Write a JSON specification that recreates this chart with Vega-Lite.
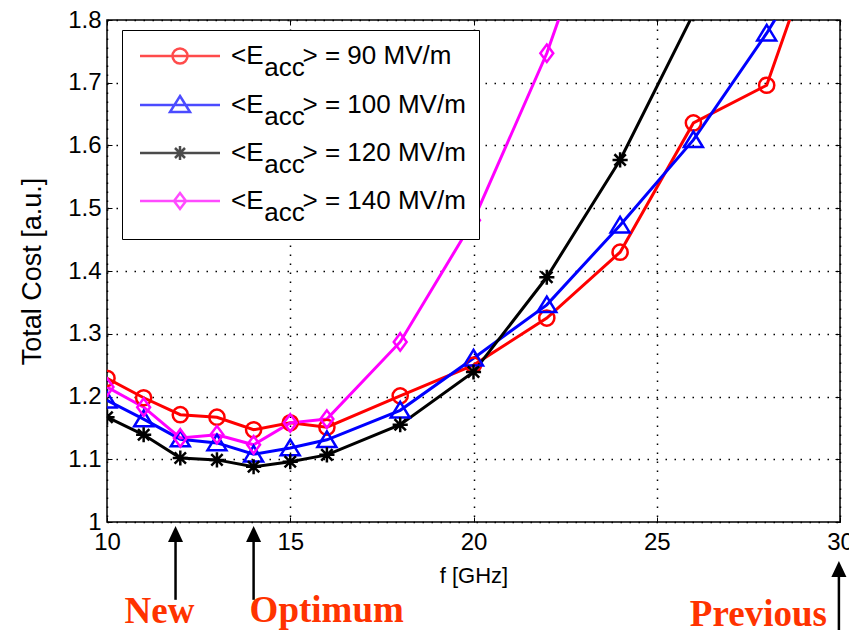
{
  "$schema": "https://vega.github.io/schema/vega-lite/v6.json",
  "width": 733,
  "height": 502,
  "autosize": {"type": "none"},
  "padding": {"left": 107, "top": 20, "right": 9, "bottom": 108},
  "background": "white",
  "config": {
    "font": "Liberation Sans",
    "view": {"stroke": "black", "strokeWidth": 1.5},
    "style": {"guide-label": {"lineHeight": 12}}
  },
  "datasets": {
    "curves": [
      {"f": 10, "E": 90, "cost": 1.229}, {"f": 11, "E": 90, "cost": 1.198}, {"f": 12, "E": 90, "cost": 1.171}, {"f": 13, "E": 90, "cost": 1.167}, {"f": 14, "E": 90, "cost": 1.147}, {"f": 15, "E": 90, "cost": 1.158}, {"f": 16, "E": 90, "cost": 1.151}, {"f": 18, "E": 90, "cost": 1.201}, {"f": 20, "E": 90, "cost": 1.25}, {"f": 22, "E": 90, "cost": 1.325}, {"f": 24, "E": 90, "cost": 1.43}, {"f": 26, "E": 90, "cost": 1.636}, {"f": 28, "E": 90, "cost": 1.696}, {"f": 30, "E": 90, "cost": 2.03},
      {"f": 10, "E": 100, "cost": 1.194}, {"f": 11, "E": 100, "cost": 1.164}, {"f": 12, "E": 100, "cost": 1.132}, {"f": 13, "E": 100, "cost": 1.126}, {"f": 14, "E": 100, "cost": 1.108}, {"f": 15, "E": 100, "cost": 1.118}, {"f": 16, "E": 100, "cost": 1.131}, {"f": 18, "E": 100, "cost": 1.178}, {"f": 20, "E": 100, "cost": 1.261}, {"f": 22, "E": 100, "cost": 1.346}, {"f": 24, "E": 100, "cost": 1.473}, {"f": 26, "E": 100, "cost": 1.609}, {"f": 28, "E": 100, "cost": 1.779}, {"f": 30, "E": 100, "cost": 1.97},
      {"f": 10, "E": 120, "cost": 1.167}, {"f": 11, "E": 120, "cost": 1.139}, {"f": 12, "E": 120, "cost": 1.102}, {"f": 13, "E": 120, "cost": 1.099}, {"f": 14, "E": 120, "cost": 1.088}, {"f": 15, "E": 120, "cost": 1.096}, {"f": 16, "E": 120, "cost": 1.107}, {"f": 18, "E": 120, "cost": 1.155}, {"f": 20, "E": 120, "cost": 1.239}, {"f": 22, "E": 120, "cost": 1.39}, {"f": 24, "E": 120, "cost": 1.577}, {"f": 26, "E": 120, "cost": 1.81},
      {"f": 10, "E": 140, "cost": 1.215}, {"f": 11, "E": 140, "cost": 1.183}, {"f": 12, "E": 140, "cost": 1.134}, {"f": 13, "E": 140, "cost": 1.139}, {"f": 14, "E": 140, "cost": 1.123}, {"f": 15, "E": 140, "cost": 1.158}, {"f": 16, "E": 140, "cost": 1.164}, {"f": 18, "E": 140, "cost": 1.287}, {"f": 20, "E": 140, "cost": 1.481}, {"f": 22, "E": 140, "cost": 1.747}, {"f": 24, "E": 140, "cost": 2.08}
    ],
    "notes": [
      {"label": "New", "f": 11.87},
      {"label": "Optimum", "f": 14.0},
      {"label": "Previous", "f": 29.97}
    ]
  },
  "data": {"name": "curves"},
  "resolve": {"scale": {"color": "independent", "shape": "independent"}},
  "layer": [
    {
      "mark": {"type": "line", "strokeWidth": 3, "clip": true},
      "encoding": {
        "x": {"field": "f", "type": "quantitative", "scale": {"domain": [10, 30], "nice": false, "zero": false},
          "axis": {"orient": "bottom", "values": [10, 15, 20, 25, 30], "title": "f [GHz]", "titleFontSize": 22, "titleFontWeight": "normal", "titleColor": "black", "titlePadding": 11,
            "labelFontSize": 24, "labelColor": "black", "labelPadding": 13, "labelFlush": false, "labelOverlap": false,
            "tickSize": -5, "tickColor": "black", "tickWidth": 1, "domain": false,
            "grid": true, "gridColor": "black", "gridDash": [1.5, 7.5], "gridWidth": 1.5, "gridOpacity": 1}},
        "y": {"field": "cost", "type": "quantitative", "scale": {"domain": [1, 1.8], "nice": false, "zero": false},
          "axis": {"orient": "left", "values": [1, 1.1, 1.2, 1.3, 1.4, 1.5, 1.6, 1.7, 1.8], "format": ".1~f", "title": "Total Cost [a.u.]", "titleFontSize": 27, "titleFontWeight": "normal", "titleColor": "black", "titlePadding": 21,
            "labelFontSize": 24, "labelColor": "black", "labelPadding": 11, "labelFlush": false, "labelOverlap": false,
            "tickSize": -5, "tickColor": "black", "tickWidth": 1, "domain": false,
            "grid": true, "gridColor": "black", "gridDash": [1.5, 7.5], "gridWidth": 1.5, "gridOpacity": 1}},
        "color": {"field": "E", "type": "nominal", "scale": {"domain": [90, 100, 120, 140], "range": ["#ff0000", "#0000ff", "#000000", "#ff00ff"]}, "legend": null}
      }
    },
    {
      "mark": {"type": "point", "filled": false, "strokeWidth": 2.5, "size": 230, "opacity": 1, "clip": true},
      "encoding": {
        "x": {"field": "f", "type": "quantitative", "axis": {"orient": "top", "values": [10, 15, 20, 25, 30], "labels": false, "title": null, "tickSize": -5, "tickColor": "black", "domain": false, "grid": false}},
        "y": {"field": "cost", "type": "quantitative", "axis": {"orient": "right", "values": [1, 1.1, 1.2, 1.3, 1.4, 1.5, 1.6, 1.7, 1.8], "labels": false, "title": null, "tickSize": -5, "tickColor": "black", "domain": false, "grid": false}},
        "color": {"field": "E", "type": "nominal", "scale": {"domain": [90, 100, 120, 140], "range": ["#ff0000", "#0000ff", "#000000", "#ff00ff"]}, "legend": null},
        "shape": {"field": "E", "type": "nominal", "scale": {"domain": [90, 100, 120, 140], "range": ["circle", "M0,-1.1L1.25,0.95L-1.25,0.95Z", "M0,-1V1M-1,0H1M-0.75,-0.75L0.75,0.75M-0.75,0.75L0.75,-0.75", "M0,-1.15L0.85,0L0,1.15L-0.85,0Z"]}, "legend": null}
      }
    },
    {
      "transform": [{"filter": "false"}],
      "mark": {"type": "point", "filled": false, "strokeWidth": 2.5},
      "encoding": {
        "x": {"field": "f", "type": "quantitative", "axis": null},
        "y": {"field": "cost", "type": "quantitative", "axis": null},
        "color": {"field": "E", "type": "nominal", "scale": {"domain": [90, 100, 120, 140], "range": ["#ff0000", "#0000ff", "#000000", "#ff00ff"]},
          "legend": {"orient": "none", "legendX": 15, "legendY": 10, "title": null, "strokeColor": "black", "fillColor": "white", "padding": 13,
            "symbolSize": 400, "symbolStrokeWidth": 2.5, "symbolOffset": 32, "labelOffset": 38, "labelFontSize": 26, "labelFont": "Liberation Sans", "labelColor": "black", "labelLimit": 500, "rowPadding": 10,
            "labelExpr": "['<E\u2002\u2002\u2002> = ' + datum.label + ' MV/m', '\u200b\u2002\u2002 acc']",
            "encode": {"labels": {"update": {"lineHeight": {"value": 12}}}}}},
        "shape": {"field": "E", "type": "nominal", "scale": {"domain": [90, 100, 120, 140], "range": ["M-4,0H4M0.75,0A0.75,0.75 0 1,1 -0.75,0A0.75,0.75 0 1,1 0.75,0", "M-4,0H4M0,-0.9L1,0.7L-1,0.7Z", "M-4,0H4M0,-0.7V0.7M-0.7,0H0.7M-0.5,-0.5L0.5,0.5M-0.5,0.5L0.5,-0.5", "M-4,0H4M0,-0.8L0.6,0L0,0.8L-0.6,0Z"]},
          "legend": {"orient": "none", "legendX": 15, "legendY": 10, "title": null, "strokeColor": "black", "fillColor": "white", "padding": 13,
            "symbolSize": 400, "symbolStrokeWidth": 2.5, "symbolOffset": 32, "labelOffset": 38, "labelFontSize": 26, "labelFont": "Liberation Sans", "labelColor": "black", "labelLimit": 500, "rowPadding": 10,
            "labelExpr": "['<E\u2002\u2002\u2002> = ' + datum.label + ' MV/m', '\u200b\u2002\u2002 acc']",
            "encode": {"labels": {"update": {"lineHeight": {"value": 12}}}}}}
      }
    },
    {
      "data": {"name": "notes"},
      "transform": [{"filter": "datum.label !== 'Previous'"}],
      "layer": [
        {
          "mark": {"type": "rule", "strokeWidth": 2.5, "color": "black"},
          "encoding": {
            "x": {"field": "f", "type": "quantitative", "axis": null},
            "y": {"datum": 0.876, "type": "quantitative", "axis": null},
            "y2": {"datum": 0.985}
          }
        },
        {
          "mark": {"type": "point", "filled": true, "color": "black", "opacity": 1, "size": 256, "shape": "M0,-1L0.94,1L-0.94,1Z"},
          "encoding": {
            "x": {"field": "f", "type": "quantitative", "axis": null},
            "y": {"datum": 0.9809, "type": "quantitative", "axis": null}
          }
        }
      ]
    },
    {
      "data": {"name": "notes"},
      "transform": [{"filter": "datum.label === 'Previous'"}],
      "layer": [
        {
          "mark": {"type": "rule", "strokeWidth": 2.5, "color": "black"},
          "encoding": {
            "x": {"field": "f", "type": "quantitative", "axis": null},
            "y": {"datum": 0.8, "type": "quantitative", "axis": null},
            "y2": {"datum": 0.93}
          }
        },
        {
          "mark": {"type": "point", "filled": true, "color": "black", "opacity": 1, "size": 256, "shape": "M0,-1L0.94,1L-0.94,1Z"},
          "encoding": {
            "x": {"field": "f", "type": "quantitative", "axis": null},
            "y": {"datum": 0.9251, "type": "quantitative", "axis": null}
          }
        }
      ]
    },
    {
      "data": {"name": "notes"},
      "transform": [{"filter": "datum.label === 'New'"}],
      "mark": {"type": "text", "font": "Liberation Serif", "fontWeight": "bold", "fontSize": 37, "color": "#ff3300", "align": "center", "baseline": "alphabetic", "dx": -16},
      "encoding": {
        "x": {"field": "f", "type": "quantitative", "axis": null},
        "y": {"datum": 0.839, "type": "quantitative", "axis": null},
        "text": {"field": "label"}
      }
    },
    {
      "data": {"name": "notes"},
      "transform": [{"filter": "datum.label === 'Optimum'"}],
      "mark": {"type": "text", "font": "Liberation Serif", "fontWeight": "bold", "fontSize": 37, "color": "#ff3300", "align": "left", "baseline": "alphabetic", "dx": -4},
      "encoding": {
        "x": {"field": "f", "type": "quantitative", "axis": null},
        "y": {"datum": 0.8407, "type": "quantitative", "axis": null},
        "text": {"field": "label"}
      }
    },
    {
      "data": {"name": "notes"},
      "transform": [{"filter": "datum.label === 'Previous'"}],
      "mark": {"type": "text", "font": "Liberation Serif", "fontWeight": "bold", "fontSize": 37, "color": "#ff3300", "align": "right", "baseline": "alphabetic", "dx": -12},
      "encoding": {
        "x": {"field": "f", "type": "quantitative", "axis": null},
        "y": {"datum": 0.8343, "type": "quantitative", "axis": null},
        "text": {"field": "label"}
      }
    }
  ]
}
